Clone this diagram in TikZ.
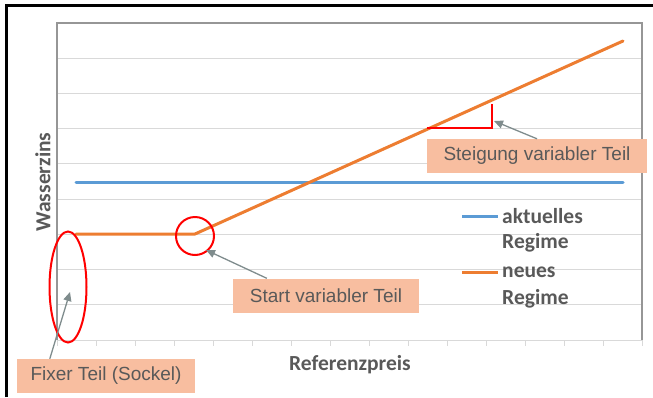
\documentclass[tikz,border=0pt]{standalone}
\usepackage{fontspec}
\setmainfont{Liberation Sans}
\newfontfamily\calfont{Carlito}
\usetikzlibrary{arrows.meta}
\definecolor{txtgray}{RGB}{89,89,89}
\definecolor{gridgray}{RGB}{217,217,217}
\definecolor{axisgray}{RGB}{150,150,150}
\definecolor{orangeline}{RGB}{237,125,49}
\definecolor{blueline}{RGB}{91,155,213}
\definecolor{boxfill}{RGB}{248,190,160}
\definecolor{arrgray}{RGB}{127,140,141}
\tikzset{
  calloutbox/.style={fill=boxfill, draw=none, text=txtgray, font=\fontsize{19}{22}\selectfont, inner sep=0pt, minimum height=34pt},
  pointer/.style={draw=arrgray, line width=1.3pt, -{Triangle[length=9pt,width=8pt]}},
  legtext/.style={anchor=west, inner sep=0pt, text=txtgray, font=\calfont\bfseries\fontsize{21.5}{26}\selectfont},
  axtitle/.style={inner sep=0pt, text=txtgray, font=\calfont\bfseries\fontsize{21.5}{26}\selectfont},
  redmark/.style={draw=red, line width=2pt},
  series/.style={line width=3pt, line cap=round}
}
\begin{document}
\begin{tikzpicture}[x=1pt,y=-1pt]
\useasboundingbox (0,0) rectangle (653,397);
% outer frame (left and top)
\draw[line width=3pt] (6,397) -- (6,5) -- (653,5);
% grid
\foreach \k in {1,...,8}{
  \draw[gridgray, line width=1pt] (57,{23+\k*35.22}) -- (642,{23+\k*35.22});
}
\foreach \k in {0,...,15}{
  \draw[gridgray, line width=1pt] ({57+\k*39},340) -- ({57+\k*39},346);
}
\draw[gridgray, line width=1pt] (57,340) -- (642,340);
\draw[axisgray, line width=1.5pt] (57,340) -- (57,23) -- (642,23) -- (642,340);
% series
\draw[series, blueline] (76,182) -- (623,182);
\draw[series, orangeline, line join=round] (76,234) -- (195,234) -- (623,41);
% slope marker
\draw[redmark] (427,128) -- (492,128) -- (492,104);
% ellipse and circle
\draw[redmark] (68,287) ellipse [x radius=18.5, y radius=55.5];
\draw[redmark] (195,236) circle [radius=19];
% legend
\draw[series, blueline, line cap=butt] (462,216) -- (498,216);
\draw[series, orangeline, line cap=butt] (462,272) -- (498,272);
\node[legtext] (l1) at (502,216) {aktuelles};
\node[legtext] (l2) at (502,243) {Regime};
\node[legtext] (l3) at (502,272) {neues};
\node[legtext] (l4) at (502,299) {Regime};
% axis titles
\node[axtitle, rotate=90] (ytitle) at (43,182) {Wasserzins};
\node[axtitle] (xtitle) at (350,365) {Referenzpreis};
% callouts
\node[calloutbox, minimum width=220pt] (steig) at (537,156) {Steigung variabler Teil};
\node[calloutbox, minimum width=186pt] (start) at (326,295.5) {Start variabler Teil};
\node[calloutbox, minimum width=178pt] (fixer) at (106,376) {Fixer Teil (Sockel)};
\coordinate (steigT) at (494,121);
\coordinate (startT) at (206,250);
\coordinate (fixerT) at (70,292);
\draw[pointer] (steig.north) -- (steigT);
\draw[pointer] ([xshift=34pt]start.north west) -- (startT);
\draw[pointer] ([xshift=33pt]fixer.north west) -- (fixerT);
\end{tikzpicture}
\end{document}
